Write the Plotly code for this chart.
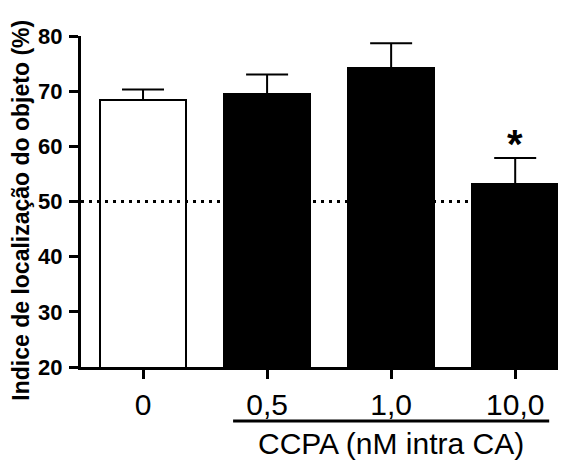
import plotly.graph_objects as go

# Data
categories = ["0", "0,5", "1,0", "10,0"]
means = [68.4, 69.4, 74.2, 53.1]
sem = [1.9, 3.6, 4.5, 4.8]
fill_colors = ["white", "black", "black", "black"]
y_ticks = [20, 30, 40, 50, 60, 70, 80]
chance_level = 50
star_level = 60.5
group_label = "CCPA (nM intra CA)"
y_title = "Indice de localização do objeto (%)"

FONT = "Liberation Sans, Arial, sans-serif"
xpos = list(range(len(categories)))
bar_w = 0.69

fig = go.Figure()
fig.add_trace(go.Bar(
    x=xpos, y=means, width=bar_w,
    marker=dict(color=fill_colors, line=dict(color="black", width=2)),
    error_y=dict(type="data", array=sem, arrayminus=[0]*len(sem), symmetric=False,
                 color="black", thickness=2, width=21),
    showlegend=False,
))
x_left, x_right = -0.5, 3 + bar_w / 2
fig.add_trace(go.Scatter(
    x=[x_left, x_right], y=[chance_level, chance_level], mode="lines",
    line=dict(color="black", width=3, dash="3px,5px"), showlegend=False, hoverinfo="skip",
))

fig.update_layout(
    width=572, height=460,
    margin=dict(l=81, r=14, t=36, b=93, autoexpand=False),
    paper_bgcolor="white", plot_bgcolor="white",
    font=dict(family=FONT, color="black"),
    bargap=0,
)
fig.update_xaxes(
    range=[x_left, x_right], tickvals=xpos, ticktext=categories,
    showline=True, linecolor="black", linewidth=3, showgrid=False, zeroline=False,
    ticks="outside", ticklen=9, tickwidth=3, tickcolor="black",
    tickfont=dict(size=30, family=FONT), ticklabelstandoff=0,
)
fig.update_yaxes(
    range=[20, 80], tickvals=y_ticks,
    showline=True, linecolor="black", linewidth=3, showgrid=False, zeroline=False,
    ticks="outside", ticklen=9, tickwidth=3, tickcolor="black",
    tickfont=dict(size=22, family=FONT, weight="bold"), ticklabelstandoff=2,
)
# y title
fig.add_annotation(
    text="<b>" + y_title + "</b>", textangle=-90, xref="paper", yref="paper",
    x=-0.126, y=0.475, xanchor="center", yanchor="middle", showarrow=False,
    font=dict(size=23, family=FONT),
)
# significance star
fig.add_annotation(
    text="<b>*</b>", x=3, y=star_level, yanchor="middle", showarrow=False,
    font=dict(size=40, family=FONT),
)
# group bracket and label
fig.add_shape(type="line", xref="x", yref="paper", x0=0.726, x1=3.274,
              y0=-0.163, y1=-0.163, line=dict(color="black", width=3))
fig.add_annotation(
    text=group_label, xref="x", yref="paper", x=2.0, y=-0.232,
    xanchor="center", yanchor="middle", showarrow=False,
    font=dict(size=30, family=FONT),
)

fig.write_html("out.html", config={"displayModeBar": False},
               post_script="document.body.style.margin='0';")
